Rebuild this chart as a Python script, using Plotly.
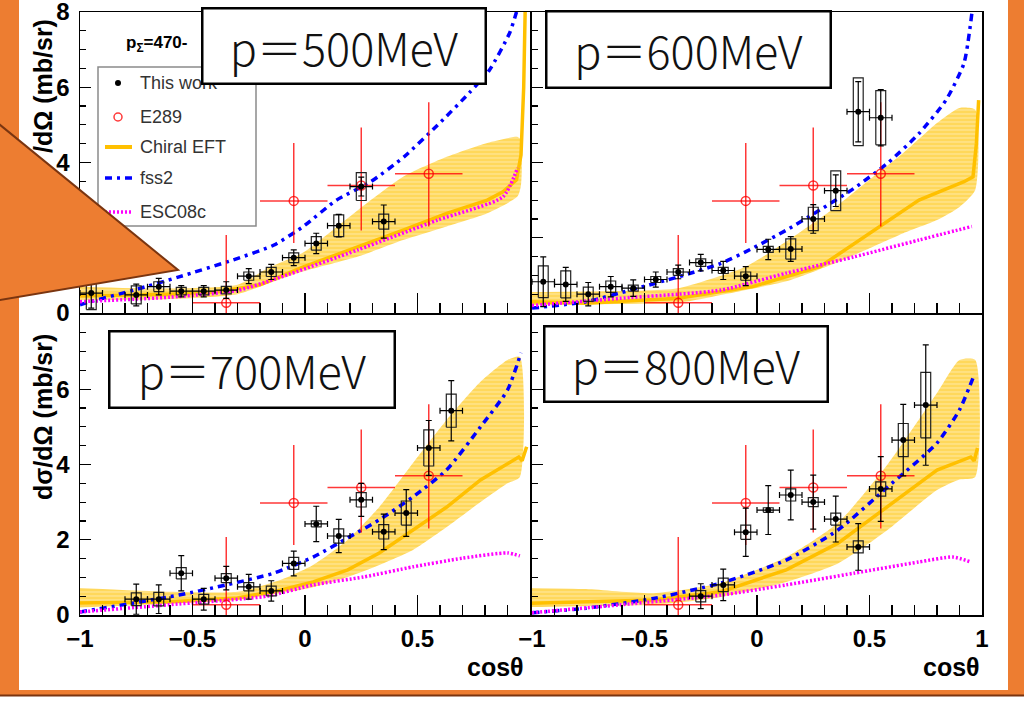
import plotly.graph_objects as go

W, H = 1024, 721

# ---------------- data ----------------
panel_labels = ["p＝500MeV", "p＝600MeV", "p＝700MeV", "p＝800MeV"]
x_ticks_left = [-1, -0.5, 0, 0.5]
x_ticktext_left = ["−1", "−0.5", "0", "0.5"]
x_ticks_right = [-1, -0.5, 0, 0.5, 1]
x_ticktext_right = ["−1", "−0.5", "0", "0.5", "1"]
y_ticks_top = [0, 2, 4, 6, 8]
y_ticks_bottom = [0, 2, 4, 6]

# E289 (same in every panel)
e289_x = [-0.35, -0.05, 0.25, 0.55]
e289_y = [0.27, 2.98, 3.39, 3.70]
e289_up = [1.80, 1.54, 1.54, 1.90]
e289_dn = [0.27, 1.12, 1.20, 1.40]
e289_xerr = 0.15

# This work
tw500_x = [-0.95, -0.75, -0.65, -0.55, -0.45, -0.35, -0.25, -0.15, -0.05, 0.05, 0.15, 0.25, 0.35]
tw500_y = [0.53, 0.48, 0.70, 0.58, 0.58, 0.61, 0.98, 1.09, 1.47, 1.85, 2.32, 3.36, 2.43]
tw500_stat = [0.40, 0.29, 0.22, 0.15, 0.15, 0.22, 0.20, 0.20, 0.21, 0.27, 0.30, 0.25, 0.44]
tw500_sys = [0.44, 0.24, 0.13, 0.10, 0.10, 0.10, 0.11, 0.12, 0.13, 0.18, 0.29, 0.37, 0.20]

tw600_x = [-0.95, -0.85, -0.75, -0.65, -0.55, -0.45, -0.35, -0.25, -0.15, -0.05, 0.05, 0.15, 0.25, 0.35, 0.45, 0.55]
tw600_y = [0.83, 0.76, 0.50, 0.70, 0.66, 0.89, 1.09, 1.34, 1.13, 0.98, 1.69, 1.70, 2.50, 3.25, 5.35, 5.19]
tw600_stat = [0.66, 0.45, 0.31, 0.27, 0.22, 0.20, 0.18, 0.22, 0.24, 0.25, 0.27, 0.33, 0.38, 0.42, 0.80, 0.75]
tw600_sys = [0.42, 0.36, 0.19, 0.15, 0.08, 0.08, 0.09, 0.10, 0.08, 0.11, 0.08, 0.27, 0.31, 0.53, 0.90, 0.72]

tw700_x = [-0.75, -0.65, -0.55, -0.45, -0.35, -0.25, -0.15, -0.05, 0.05, 0.15, 0.25, 0.35, 0.45, 0.55, 0.65]
tw700_y = [0.42, 0.42, 1.11, 0.42, 0.98, 0.75, 0.64, 1.37, 2.42, 2.10, 3.06, 2.21, 2.71, 4.44, 5.43]
tw700_stat = [0.40, 0.38, 0.47, 0.29, 0.31, 0.33, 0.27, 0.33, 0.47, 0.44, 0.44, 0.47, 0.62, 0.73, 0.80]
tw700_sys = [0.17, 0.18, 0.15, 0.13, 0.12, 0.11, 0.13, 0.16, 0.08, 0.19, 0.19, 0.19, 0.32, 0.48, 0.44]

tw800_x = [-0.25, -0.15, -0.05, 0.05, 0.15, 0.25, 0.35, 0.45, 0.55, 0.65, 0.75]
tw800_y = [0.50, 0.80, 2.20, 2.79, 3.19, 3.00, 2.55, 1.81, 3.35, 4.65, 5.58]
tw800_stat = [0.33, 0.42, 0.64, 0.65, 0.66, 0.72, 0.61, 0.62, 0.86, 0.95, 1.60]
tw800_sys = [0.15, 0.18, 0.19, 0.06, 0.16, 0.12, 0.16, 0.16, 0.19, 0.44, 0.87]

# Chiral EFT central line
chi500_x = [-1.0, -0.8, -0.6, -0.4, -0.2, -0.01, 0.236, 0.436, 0.63, 0.81, 0.88, 0.94, 0.96, 0.972, 0.98]
chi500_y = [0.45, 0.47, 0.50, 0.55, 0.75, 1.22, 1.76, 2.20, 2.65, 3.00, 3.22, 3.54, 4.20, 6.00, 8.50]
chi600_x = [-1.0, -0.76, -0.35, -0.02, 0.28, 0.50, 0.72, 0.92, 0.96, 0.975, 0.985]
chi600_y = [0.30, 0.26, 0.39, 0.70, 1.23, 2.12, 3.00, 3.49, 3.62, 4.50, 5.66]
chi700_x = [-1.0, -0.6, -0.3, -0.11, 0.036, 0.19, 0.33, 0.48, 0.63, 0.78, 0.93, 0.95, 0.965, 0.985]
chi700_y = [0.32, 0.35, 0.45, 0.66, 0.88, 1.20, 1.65, 2.26, 2.87, 3.59, 4.12, 4.20, 4.10, 4.47]
chi800_x = [-1.0, -0.76, -0.46, -0.16, 0.13, 0.36, 0.58, 0.80, 0.95, 0.965, 0.98]
chi800_y = [0.31, 0.34, 0.40, 0.62, 1.20, 1.91, 2.87, 3.85, 4.20, 4.10, 4.44]

# Chiral EFT band
band500_x = [-1.0, -0.6, -0.3, -0.156, -0.01, 0.236, 0.436, 0.63, 0.81, 0.945, 0.96]
band500_lo = [0.35, 0.37, 0.50, 0.80, 1.10, 1.50, 1.94, 2.30, 2.65, 3.10, 3.40]
band500_hi = [0.70, 0.65, 0.75, 1.22, 1.60, 2.74, 3.62, 4.15, 4.52, 4.68, 4.60]
band600_x = [-1.0, -0.5, -0.35, -0.05, 0.15, 0.35, 0.50, 0.65, 0.80, 0.90, 0.97]
band600_lo = [0.21, 0.25, 0.27, 0.61, 0.88, 1.33, 1.72, 2.12, 2.47, 2.82, 3.27]
band600_hi = [0.56, 0.60, 0.66, 1.23, 1.98, 2.82, 3.54, 4.25, 5.05, 5.45, 5.40]
band700_x = [-1.0, -0.6, -0.3, -0.11, 0.036, 0.19, 0.33, 0.48, 0.63, 0.78, 0.90, 0.955]
band700_lo = [0.20, 0.30, 0.40, 0.58, 0.74, 1.01, 1.33, 1.73, 2.34, 3.00, 3.50, 3.67]
band700_hi = [0.72, 0.62, 0.62, 0.93, 1.33, 2.00, 2.87, 4.04, 5.19, 6.20, 6.78, 6.86]
band800_x = [-1.0, -0.76, -0.46, -0.16, 0.13, 0.36, 0.58, 0.80, 0.90, 0.97]
band800_lo = [0.21, 0.24, 0.27, 0.48, 0.88, 1.37, 2.26, 3.32, 3.60, 3.67]
band800_hi = [0.72, 0.69, 0.58, 0.85, 1.54, 2.45, 4.00, 5.90, 6.78, 6.78]

# fss2
fss500_x = [-1.0, -0.96, -0.76, -0.56, -0.32, -0.14, -0.01, 0.14, 0.29, 0.44, 0.59, 0.73, 0.82, 0.91, 0.94, 0.96]
fss500_y = [0.22, 0.29, 0.61, 0.96, 1.41, 1.80, 2.29, 3.00, 3.48, 4.15, 5.00, 5.85, 6.46, 7.45, 8.00, 8.40]
fss600_x = [-1.0, -0.76, -0.55, -0.35, -0.16, -0.02, 0.13, 0.28, 0.43, 0.58, 0.72, 0.84, 0.92, 0.955]
fss600_y = [0.13, 0.30, 0.63, 0.96, 1.32, 1.72, 2.20, 2.74, 3.31, 3.98, 4.77, 5.66, 6.64, 7.97]
fss700_x = [-1.0, -0.76, -0.56, -0.35, -0.14, 0.036, 0.19, 0.33, 0.48, 0.63, 0.78, 0.90, 0.96]
fss700_y = [0.08, 0.32, 0.53, 0.80, 1.11, 1.54, 2.05, 2.53, 3.14, 3.86, 5.00, 5.98, 6.97]
fss800_x = [-1.0, -0.76, -0.46, -0.16, 0.13, 0.36, 0.58, 0.80, 0.90, 0.96]
fss800_y = [0.06, 0.18, 0.44, 0.85, 1.46, 2.26, 3.40, 4.57, 5.45, 6.30]

# ESC08c
esc500_x = [-1.0, -0.6, -0.3, -0.11, 0.236, 0.59, 0.88, 0.945]
esc500_y = [0.30, 0.42, 0.60, 0.95, 1.68, 2.47, 3.09, 3.86]
esc600_x = [-1.0, -0.61, -0.16, 0.13, 0.43, 0.72, 0.955]
esc600_y = [0.20, 0.39, 0.61, 1.06, 1.49, 1.94, 2.30]
esc700_x = [-1.0, -0.61, -0.17, 0.036, 0.26, 0.48, 0.70, 0.90, 0.955]
esc700_y = [0.08, 0.27, 0.50, 0.80, 1.01, 1.28, 1.51, 1.65, 1.57]
esc800_x = [-1.0, -0.61, -0.16, 0.13, 0.43, 0.72, 0.87, 0.95]
esc800_y = [0.06, 0.27, 0.53, 0.80, 1.11, 1.41, 1.54, 1.41]

legend_labels = ["This work", "E289", "Chiral EFT", "fss2", "ESC08c"]

# ---------------- styling ----------------
ORANGE = "#ED7D31"
DARK = "#7A3510"
YEL = "#FFC000"
BLUE = "#0000FF"
MAG = "#FF00FF"
RED = "rgba(255,0,0,0.78)"
BAND = "rgba(255,205,45,0.78)"
BOX_HW = 0.022


def px(x):
    return x / W


def py(y):
    return 1 - y / H


fig = go.Figure()

panels = [
    ("x", "y", tw500_x, tw500_y, tw500_stat, tw500_sys, chi500_x, chi500_y, band500_x, band500_lo, band500_hi, fss500_x, fss500_y, esc500_x, esc500_y),
    ("x2", "y2", tw600_x, tw600_y, tw600_stat, tw600_sys, chi600_x, chi600_y, band600_x, band600_lo, band600_hi, fss600_x, fss600_y, esc600_x, esc600_y),
    ("x3", "y3", tw700_x, tw700_y, tw700_stat, tw700_sys, chi700_x, chi700_y, band700_x, band700_lo, band700_hi, fss700_x, fss700_y, esc700_x, esc700_y),
    ("x4", "y4", tw800_x, tw800_y, tw800_stat, tw800_sys, chi800_x, chi800_y, band800_x, band800_lo, band800_hi, fss800_x, fss800_y, esc800_x, esc800_y),
]

for (xa, ya, twx, twy, tws, twsys, cx, cy, bx, blo, bhi, fx, fy, ex, ey) in panels:
    # band
    fig.add_trace(go.Scatter(
        x=list(bx) + list(bx)[::-1], y=list(blo) + list(bhi)[::-1],
        xaxis=xa, yaxis=ya, mode="lines", fill="toself",
        line=dict(width=0, color="rgba(0,0,0,0)", shape="spline", smoothing=0.6),
        fillcolor=BAND,
        fillpattern=dict(shape="-", bgcolor=BAND, fgcolor="rgba(255,255,255,0.75)", size=4, solidity=0.3),
        hoverinfo="skip"))
    # chiral line
    fig.add_trace(go.Scatter(x=cx, y=cy, xaxis=xa, yaxis=ya, mode="lines",
                             line=dict(color=YEL, width=3.5)))
    # fss2
    fig.add_trace(go.Scatter(x=fx, y=fy, xaxis=xa, yaxis=ya, mode="lines",
                             line=dict(color=BLUE, width=3.5, dash="7px,5px,3px,5px", shape="spline", smoothing=0.6)))
    # ESC08c
    fig.add_trace(go.Scatter(x=ex, y=ey, xaxis=xa, yaxis=ya, mode="lines",
                             line=dict(color=MAG, width=3.5, dash="2px,2px", shape="spline", smoothing=0.6)))
    # E289
    fig.add_trace(go.Scatter(
        x=e289_x, y=e289_y, xaxis=xa, yaxis=ya, mode="markers",
        marker=dict(symbol="circle-open", size=9, color=RED, line=dict(width=1.5, color=RED)),
        error_x=dict(type="constant", value=e289_xerr, color=RED, thickness=1.5, width=0),
        error_y=dict(type="data", array=e289_up, arrayminus=e289_dn, color=RED, thickness=1.5, width=0)))
    # systematic boxes
    bxs, bys = [], []
    for xv, yv, sv in zip(twx, twy, twsys):
        bxs += [xv - BOX_HW, xv + BOX_HW, xv + BOX_HW, xv - BOX_HW, xv - BOX_HW, None]
        bys += [yv - sv, yv - sv, yv + sv, yv + sv, yv - sv, None]
    fig.add_trace(go.Scatter(x=bxs, y=bys, xaxis=xa, yaxis=ya, mode="lines",
                             line=dict(color="#222", width=1.2)))
    # this work points
    fig.add_trace(go.Scatter(
        x=twx, y=twy, xaxis=xa, yaxis=ya, mode="markers",
        marker=dict(symbol="circle", size=6, color="black"),
        error_x=dict(type="constant", value=0.05, color="black", thickness=1.2, width=3),
        error_y=dict(type="data", array=tws, color="black", thickness=1.2, width=3)))

TICKFONT = dict(family="Liberation Sans, Arial", size=24, color="black", weight="bold")


def xaxis_cfg(left_px, right_px, anchor, labels=None, text=None):
    d = dict(domain=[px(left_px), px(right_px)], range=[-1, 1], anchor=anchor, automargin=False,
             showline=True, mirror=True, linecolor="black", linewidth=1.5,
             showgrid=False, zeroline=False, ticks="inside", ticklen=20, tickwidth=1.2,
             tickcolor="black", tickfont=TICKFONT, fixedrange=True, ticklabeloverflow="allow",
             minor=dict(dtick=0.1, tick0=-1, ticklen=10, ticks="inside", tickcolor="black", tickwidth=1.2))
    if labels is None:
        d.update(tickvals=[-1, -0.5, 0, 0.5, 1], showticklabels=False)
    else:
        d.update(tickvals=labels, ticktext=text, showticklabels=True, ticklabelstandoff=2)
    return d


def yaxis_cfg(top_px, bot_px, anchor, labels=None):
    d = dict(domain=[py(bot_px), py(top_px)], range=[0, 8], anchor=anchor, automargin=False,
             showline=True, mirror=True, linecolor="black", linewidth=1.5,
             showgrid=False, zeroline=False, ticks="inside", ticklen=11, tickwidth=1.2,
             tickcolor="black", tickfont=TICKFONT, fixedrange=True, ticklabeloverflow="allow",
             minor=dict(dtick=0.5, tick0=0, ticklen=6, ticks="inside", tickcolor="black", tickwidth=1.2))
    if labels is None:
        d.update(tickvals=[0, 2, 4, 6, 8], showticklabels=False)
    else:
        d.update(tickvals=labels, ticktext=[str(v) for v in labels], showticklabels=True, ticklabelstandoff=4)
    return d


LX0, LX1, RX0, RX1 = 80, 530, 532, 982
TY0, TY1, BY0, BY1 = 12, 313, 314, 615

layout = dict(
    width=W, height=H, autosize=False, margin=dict(l=0, r=0, t=0, b=0, autoexpand=False),
    paper_bgcolor="white", plot_bgcolor="rgba(0,0,0,0)", showlegend=False,
    xaxis=xaxis_cfg(LX0, LX1, "y"), yaxis=yaxis_cfg(TY0, TY1, "x", y_ticks_top),
    xaxis2=xaxis_cfg(RX0, RX1, "y2"), yaxis2=yaxis_cfg(TY0, TY1, "x2"),
    xaxis3=xaxis_cfg(LX0, LX1, "y3", x_ticks_left, x_ticktext_left), yaxis3=yaxis_cfg(BY0, BY1, "x3", y_ticks_bottom),
    xaxis4=xaxis_cfg(RX0, RX1, "y4", x_ticks_right, x_ticktext_right), yaxis4=yaxis_cfg(BY0, BY1, "x4"),
)
fig.update_layout(**layout)

# ---------------- shapes ----------------
shapes = []
# orange slide frame
shapes.append(dict(type="rect", xref="paper", yref="paper", x0=px(-5), x1=px(W + 5), y0=py(-5), y1=py(695),
                   fillcolor=ORANGE, line=dict(width=0), layer="below"))
shapes.append(dict(type="line", xref="paper", yref="paper", x0=px(0), x1=px(W), y0=py(695.5), y1=py(695.5),
                   line=dict(color=DARK, width=2), layer="below"))
shapes.append(dict(type="rect", xref="paper", yref="paper", x0=px(19), x1=px(1008), y0=py(-5), y1=py(690),
                   fillcolor="white", line=dict(width=0), layer="below"))

# legend box
shapes.append(dict(type="rect", xref="paper", yref="paper", x0=px(98), x1=px(256), y0=py(67), y1=py(226),
                   fillcolor="white", line=dict(color="#8a8a8a", width=1.5), layer="above"))
leg_y = [83, 117, 147, 178, 212]
shapes.append(dict(type="circle", xref="paper", yref="paper", x0=px(115), x1=px(121), y0=py(80), y1=py(86),
                   fillcolor="black", line=dict(width=0), layer="above"))
shapes.append(dict(type="circle", xref="paper", yref="paper", x0=px(114), x1=px(122), y0=py(113), y1=py(121),
                   fillcolor="white", line=dict(color=RED, width=1.5), layer="above"))
shapes.append(dict(type="line", xref="paper", yref="paper", x0=px(105), x1=px(132), y0=py(147), y1=py(147),
                   line=dict(color=YEL, width=4), layer="above"))
shapes.append(dict(type="line", xref="paper", yref="paper", x0=px(105), x1=px(132), y0=py(178), y1=py(178),
                   line=dict(color=BLUE, width=3.5, dash="7px,5px,3px,5px"), layer="above"))
shapes.append(dict(type="line", xref="paper", yref="paper", x0=px(105), x1=px(132), y0=py(212), y1=py(212),
                   line=dict(color=MAG, width=3.5, dash="2px,2px"), layer="above"))

# callout triangle (on top)
tri = [(-6, 120), (178, 270), (-6, 301)]
path = "M " + " L ".join(f"{px(a)},{py(b)}" for a, b in tri) + " Z"
shapes.append(dict(type="path", xref="paper", yref="paper", path=path, fillcolor=ORANGE,
                   line=dict(color=DARK, width=2), layer="above"))
fig.update_layout(shapes=shapes)

# ---------------- annotations ----------------
ann = []
TITLEFONT = dict(family="Liberation Sans, Arial", size=25, color="black", weight="bold")
ann.append(dict(xref="paper", yref="paper", x=px(43), y=py(86), text="/dΩ (mb/sr)", textangle=-90,
                showarrow=False, xanchor="center", yanchor="middle", font=TITLEFONT))
ann.append(dict(xref="paper", yref="paper", x=px(43), y=py(417), text="dσ/dΩ (mb/sr)", textangle=-90,
                showarrow=False, xanchor="center", yanchor="middle", font=TITLEFONT))
for xr in (526, 982):
    ann.append(dict(xref="paper", yref="paper", x=px(xr), y=py(667), text="cosθ", showarrow=False,
                    xanchor="right", yanchor="middle", font=TITLEFONT))

LEGFONT = dict(family="Liberation Sans, Arial", size=18, color="#333")
for lab, yy in zip(legend_labels, leg_y):
    ann.append(dict(xref="paper", yref="paper", x=px(138), y=py(yy), text=lab, showarrow=False,
                    xanchor="left", yanchor="middle", font=LEGFONT))

ann.append(dict(xref="paper", yref="paper", x=px(124), y=py(44), text="p<sub>Σ</sub>=470-",
                showarrow=False, xanchor="left", yanchor="middle",
                font=dict(family="Liberation Sans, Arial", size=17, color="black", weight="bold")))

boxes = [(201, 7, 487, 85), (545, 10, 832, 89), (108, 330, 396, 409), (543, 325, 829, 403)]
BW = 2.5
for lab, (x0, y0, x1, y1) in zip(panel_labels, boxes):
    ann.append(dict(xref="paper", yref="paper", x=px(x0), y=py(y0), xanchor="left", yanchor="top",
                    text=lab, showarrow=False, width=x1 - x0 - 2 * BW, height=y1 - y0 - 2 * BW,
                    bgcolor="white", bordercolor="black", borderwidth=BW, borderpad=0,
                    align="center", valign="middle",
                    font=dict(family="Noto Sans CJK JP", size=45, color="#111", weight=300)))
fig.update_layout(annotations=ann)

fig.write_html("out.html", config={"displayModeBar": False, "staticPlot": True},
               post_script="document.body.style.margin='0px';document.body.style.overflow='hidden';")
